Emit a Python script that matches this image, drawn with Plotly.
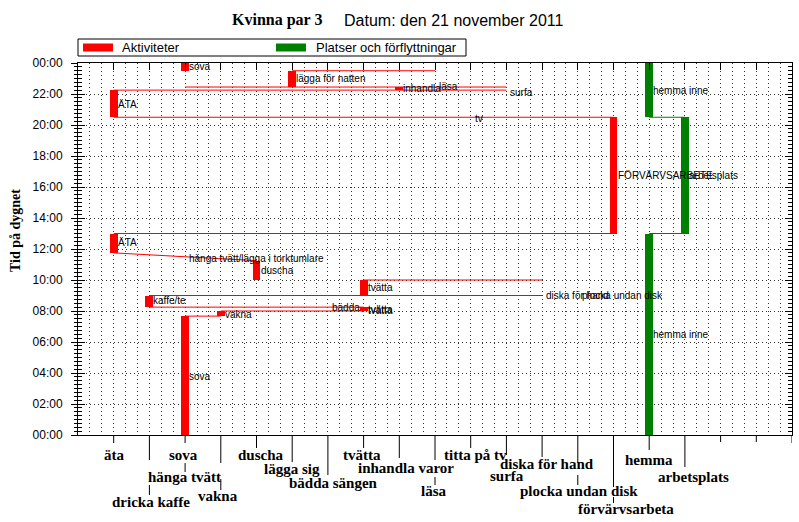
import plotly.graph_objects as go

# ---------------- data ----------------
# x positions are category column indices (0 = äta ... 16 = arbetsplats)
X_LABELS = ["äta", "dricka kaffe", "sova", "hänga tvätt", "vakna", "duscha", "lägga sig",
            "bädda sängen", "tvätta", "inhandla varor", "läsa", "titta på tv", "surfa",
            "diska för hand", "plocka undan disk", "förvärvsarbeta", "hemma", "arbetsplats"]
X_LABEL_COL = [0, 1, 2, 2, 3, 4, 5, 6, 7, 8, 9, 10, 11, 12, 13, 14, 15, 16]
N_TICKS = 20

Y_TICKVALS = list(range(0, 25, 2))
Y_TICKTEXT = ["00:00", "02:00", "04:00", "06:00", "08:00", "10:00", "12:00",
              "14:00", "16:00", "18:00", "20:00", "22:00", "00:00"]

LEGEND_NAMES = ["Aktiviteter", "Platser och förflyttningar"]

# activities (red), hours
ACT_COL = [2, 3, 7, 1, 7, 4, 0, 14, 0, 8, 5, 2]
ACT_START = [0.0, 7.67, 8.0, 8.25, 9.0, 10.0, 11.75, 13.0, 20.5, 22.25, 22.45, 23.5]
ACT_END = [7.67, 8.0, 8.25, 9.0, 10.0, 11.25, 13.0, 20.5, 22.25, 22.45, 23.5, 24.0]

# places (green)
PLACE_COL = [15, 16, 15]
PLACE_START = [0.0, 13.0, 20.5]
PLACE_END = [13.0, 20.5, 24.0]

# transitions between activities
ACT_LINK_COL0 = [2, 3, 1, 1, 7, 0, 0, 0, 0, 2, 5]
ACT_LINK_T0 = [7.67, 8.0, 8.25, 9.0, 10.0, 11.75, 13.0, 20.5, 22.25, 22.45, 23.5]
ACT_LINK_COL1 = [3, 7, 7, 12, 12, 4, 14, 14, 11, 11, 9]
ACT_LINK_T1 = [7.67, 8.0, 8.25, 9.0, 10.0, 11.25, 13.0, 20.5, 22.25, 22.45, 23.5]

PLACE_LINK_COL0 = [15, 15]
PLACE_LINK_T0 = [13.0, 20.5]
PLACE_LINK_COL1 = [16, 16]
PLACE_LINK_T1 = [13.0, 20.5]

# labels inside the plot
ACT_LABEL_TEXT = ["sova", "vakna", "bädda", "tvätta", "tvätta", "kaffe/te", "tvätta",
                  "diska för hand", "plocka undan disk", "duscha",
                  "hänga tvätt/lägga i torktumlare", "ÄTA", "FÖRVÄRVSARBETE", "tv", "ÄTA",
                  "surfa", "inhandla", "läsa", "lägga för natten", "sova"]
ACT_LABEL_COL = [2, 3, 6, 7, 7, 1, 7, 12, 13, 4, 2, 0, 14, 10, 0, 11, 8, 9, 5, 2]
ACT_LABEL_T = [3.8, 7.8, 8.2, 8.12, 8.03, 8.65, 9.5, 8.97, 8.97, 10.6, 11.4, 12.4,
               16.77, 20.4, 21.3, 22.1, 22.37, 22.5, 22.97, 23.75]

PLACE_LABEL_TEXT = ["hemma inne", "arbetsplats", "hemma inne"]
PLACE_LABEL_COL = [15, 16, 15]
PLACE_LABEL_T = [6.5, 16.77, 22.2]

# ---------------- layout helpers (pixels) ----------------
W, H = 799, 522
ML, MR, MT, MB = 78, 7, 63, 87
PH = H - MT - MB  # plot height in px
PW = W - ML - MR

RED = "#FF0000"
GREEN = "#008000"
SANS = "Liberation Sans, Arial, sans-serif"
SERIF = "Liberation Serif, Times New Roman, serif"

# x-label placement: horizontal shift (px) and vertical centre (px from page top)
XLAB_SHIFT = [0, 2, -2, -1, -3, 4, 0, 6, -2, 7, -1, 5, 1, 5, 1, 12, 0, 9]
XLAB_Y = [455, 502, 455, 477, 496, 455, 469, 483, 455, 468, 491, 455, 476, 464, 491, 509, 460, 477]
# bottom tick / connector segments (px from page top), per tick column
TICK_SEGS = [[(435, 443)], [(435, 460), (485, 495)], [(435, 443), (463, 472)],
             [(435, 463), (479, 490)], [(435, 448)], [(435, 462)], [(435, 475)],
             [(435, 448)], [(435, 458)], [(435, 460), (477, 485)], [(435, 448)],
             [(435, 455)], [(435, 457)], [(435, 463), (475, 485)],
             [(435, 487), (497, 503)], [(435, 450)], [(435, 467)], [(435, 442)],
             [(435, 442)], [(435, 443)]]

# legend box geometry (px)
LEG_BOX = (78, 39, 466, 56)
LEG_SWATCH_X = [83, 276]
LEG_TEXT_X = [120, 314]
LEG_COLORS = [RED, GREEN]


def py_to_paper(py):
    return (H - MB - py) / PH


def px_to_paper(px):
    return (px - ML) / PW


fig = go.Figure()


def link_xy(c0, t0, c1, t1):
    xs, ys = [], []
    for a, b, c, d in zip(c0, t0, c1, t1):
        xs += [a, c, None]
        ys += [b, d, None]
    return xs, ys


lx, ly = link_xy(ACT_LINK_COL0, ACT_LINK_T0, ACT_LINK_COL1, ACT_LINK_T1)
fig.add_trace(go.Scatter(x=lx, y=ly, mode="lines", line=dict(color=RED, width=1),
                         showlegend=False, hoverinfo="skip"))
gx, gy = link_xy(PLACE_LINK_COL0, PLACE_LINK_T0, PLACE_LINK_COL1, PLACE_LINK_T1)
fig.add_trace(go.Scatter(x=gx, y=gy, mode="lines", line=dict(color=GREEN, width=1),
                         showlegend=False, hoverinfo="skip"))

fig.add_trace(go.Bar(x=ACT_COL, y=[e - s for s, e in zip(ACT_START, ACT_END)], base=ACT_START,
                     width=0.22, marker=dict(color=RED, line=dict(width=0)),
                     name=LEGEND_NAMES[0], showlegend=False))
fig.add_trace(go.Bar(x=PLACE_COL, y=[e - s for s, e in zip(PLACE_START, PLACE_END)],
                     base=PLACE_START, width=0.22,
                     marker=dict(color=GREEN, line=dict(width=0)),
                     name=LEGEND_NAMES[1], showlegend=False))

# dummy traces so the overlaying tick axes are drawn
fig.add_trace(go.Scatter(x=[None], y=[None], xaxis="x2", yaxis="y", showlegend=False,
                         hoverinfo="skip"))
fig.add_trace(go.Scatter(x=[None], y=[None], xaxis="x", yaxis="y2", showlegend=False,
                         hoverinfo="skip"))

annotations = []
for txt, c, t in zip(ACT_LABEL_TEXT + PLACE_LABEL_TEXT, ACT_LABEL_COL + PLACE_LABEL_COL,
                     ACT_LABEL_T + PLACE_LABEL_T):
    annotations.append(dict(x=c, y=t, xref="x", yref="y", text=txt, showarrow=False,
                            xanchor="left", yanchor="middle", xshift=2,
                            font=dict(family=SANS, size=10, color="black")))

for txt, c, sh, yy in zip(X_LABELS, X_LABEL_COL, XLAB_SHIFT, XLAB_Y):
    annotations.append(dict(x=c, y=py_to_paper(yy), xref="x", yref="paper", text="<b>%s</b>" % txt,
                            showarrow=False, xanchor="center", yanchor="middle", xshift=sh,
                            font=dict(family=SERIF, size=15, color="black")))

# titles
annotations.append(dict(x=px_to_paper(277), y=py_to_paper(20), xref="paper", yref="paper",
                        text="<b>Kvinna par 3</b>", showarrow=False, xanchor="center",
                        yanchor="middle", font=dict(family=SERIF, size=16, color="black")))
annotations.append(dict(x=px_to_paper(342), y=py_to_paper(20), xref="paper", yref="paper",
                        text="Datum: den 21 november 2011", showarrow=False, xanchor="left",
                        yanchor="middle", font=dict(family=SANS, size=16, color="black")))
annotations.append(dict(x=px_to_paper(15), y=py_to_paper(230), xref="paper", yref="paper",
                        text="<b>Tid på dygnet</b>", showarrow=False, textangle=-90,
                        xanchor="center", yanchor="middle",
                        font=dict(family=SERIF, size=14, color="black")))

shapes = []
for i, segs in enumerate(TICK_SEGS):
    for y0, y1 in segs:
        shapes.append(dict(type="line", xref="x", yref="paper", x0=i, x1=i,
                           y0=py_to_paper(y0), y1=py_to_paper(y1),
                           line=dict(color="black", width=1)))

# legend (drawn as a box with swatches and text)
bx0, by0, bx1, by1 = LEG_BOX
shapes.append(dict(type="rect", xref="paper", yref="paper",
                   x0=px_to_paper(bx0), x1=px_to_paper(bx1),
                   y0=py_to_paper(by1), y1=py_to_paper(by0),
                   line=dict(color="black", width=1), fillcolor="white"))
for name, sx, tx, col in zip(LEGEND_NAMES, LEG_SWATCH_X, LEG_TEXT_X, LEG_COLORS):
    shapes.append(dict(type="rect", xref="paper", yref="paper",
                       x0=px_to_paper(sx), x1=px_to_paper(sx + 30),
                       y0=py_to_paper(51.5), y1=py_to_paper(43.5),
                       line=dict(width=0), fillcolor=col))
    annotations.append(dict(x=px_to_paper(tx), y=py_to_paper(47.5), xref="paper",
                            yref="paper", text=name, showarrow=False, xanchor="left",
                            yanchor="middle", font=dict(family=SANS, size=13, color="black")))

DOT = "1px,3px"
GRID = "#333333"
fig.update_layout(
    width=W, height=H, margin=dict(l=ML, r=MR, t=MT, b=MB, pad=0),
    plot_bgcolor="white", paper_bgcolor="white",
    barmode="overlay", bargap=0,
    showlegend=False,
    xaxis=dict(range=[-1, N_TICKS - 1], tickmode="linear", tick0=0, dtick=1,
               showticklabels=False, ticks="", showline=True, linecolor="black",
               linewidth=1, mirror=True, zeroline=False,
               showgrid=True, gridcolor=GRID, griddash=DOT, gridwidth=1,
               minor=dict(tick0=0, dtick=1 / 3, showgrid=True, gridcolor=GRID,
                          griddash=DOT, gridwidth=1, ticks="")),
    xaxis2=dict(range=[-1, N_TICKS - 1], overlaying="x", side="top", anchor="y",
                tickmode="array", tickvals=list(range(N_TICKS)), ticks="inside",
                ticklen=7, tickcolor="black", showticklabels=False, showgrid=False,
                zeroline=False, showline=False),
    yaxis=dict(range=[0, 24], tickmode="array", tickvals=Y_TICKVALS, ticktext=Y_TICKTEXT,
               ticks="outside", ticklen=6, tickcolor="black", showline=True,
               linecolor="black", linewidth=1, mirror=True, zeroline=False,
               showgrid=True, gridcolor=GRID, griddash=DOT, gridwidth=1,
               ticklabelstandoff=6,
               tickfont=dict(family=SANS, size=12, color="black"),
               minor=dict(tick0=0, dtick=0.25, ticks="outside", ticklen=3,
                          tickcolor="black", showgrid=False)),
    yaxis2=dict(range=[0, 24], overlaying="y", side="left", anchor="x",
                tickmode="array", tickvals=Y_TICKVALS, ticks="inside", ticklen=7,
                tickcolor="black", mirror="ticks", showticklabels=False, showgrid=False,
                zeroline=False, showline=False,
                minor=dict(tick0=0, dtick=0.25, ticks="inside", ticklen=4,
                           tickcolor="black", showgrid=False)),
    annotations=annotations,
    shapes=shapes,
)

fig.write_html("out.html")
